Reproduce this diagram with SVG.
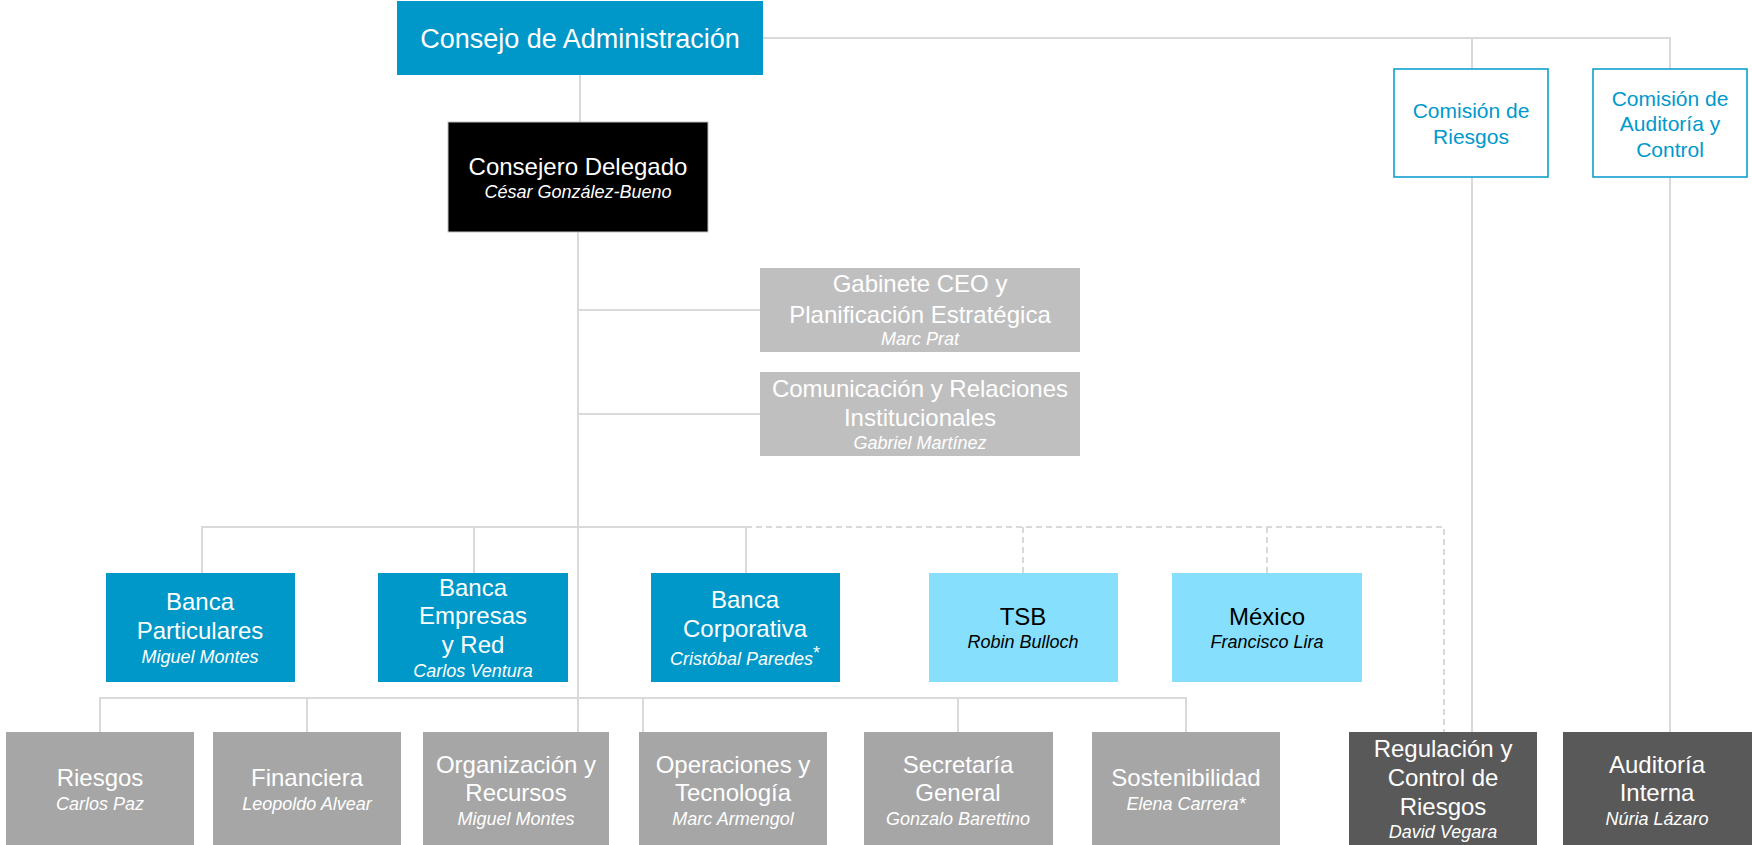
<svg xmlns="http://www.w3.org/2000/svg" width="1752" height="845" viewBox="0 0 1752 845">
<style>
text{font-family:"Liberation Sans",Arial,sans-serif;text-anchor:middle}
.t{font-size:24px}
.n{font-size:18px;font-style:italic}
.w{fill:#ffffff}
.k{fill:#000000}
.b{fill:#0099CC}
.blue{fill:#0098C8}
.cyan{fill:#86E0FD}
.lg{fill:#BFBFBF}
.mg{fill:#A6A6A6}
.dg{fill:#595959}
.ln{stroke:#D9D9D9;stroke-width:2;fill:none}
.ds{stroke:#D9D9D9;stroke-width:2;fill:none;stroke-dasharray:6 4}
</style>
<rect width="1752" height="845" fill="#ffffff"/>
<g id="connectors">
<path class="ln" d="M763 38H1670V69M1472 38V69"/>
<path class="ln" d="M580 75V122"/>
<path class="ln" d="M578 232V732"/>
<path class="ln" d="M578 310H760M578 414H760"/>
<path class="ln" d="M202 573V527H746V573M474 527V573"/>
<path class="ds" d="M746 527H1444V732M1023 527V573M1267 527V573"/>
<path class="ln" d="M100 732V698H1186V732M307 698V732M643 698V732M958 698V732"/>
<path class="ln" d="M1472 177V732M1670 177V732"/>
</g>
<g id="consejo">
<rect class="blue" x="397" y="1" width="366" height="74"/>
<text class="w" x="580" y="48" style="font-size:27px">Consejo de Administración</text>
</g>
<g id="ceo">
<rect x="448" y="122" width="260" height="110" fill="#000" stroke="#BFBFBF" stroke-width="1"/>
<text class="w t" x="578" y="175">Consejero Delegado</text>
<text class="w n" x="578" y="198">César González-Bueno</text>
</g>
<g id="comision-riesgos">
<rect x="1394" y="69" width="154" height="108" fill="#fff" stroke="#0099CC" stroke-width="1.5"/>
<text class="b" x="1471" y="118" style="font-size:21px">Comisión de</text>
<text class="b" x="1471" y="144" style="font-size:21px">Riesgos</text>
</g>
<g id="comision-auditoria">
<rect x="1593" y="69" width="154" height="108" fill="#fff" stroke="#0099CC" stroke-width="1.5"/>
<text class="b" x="1670" y="106" style="font-size:21px">Comisión de</text>
<text class="b" x="1670" y="131" style="font-size:21px">Auditoría y</text>
<text class="b" x="1670" y="157" style="font-size:21px">Control</text>
</g>
<g id="gabinete">
<rect class="lg" x="760" y="268" width="320" height="84"/>
<text class="w t" x="920" y="292">Gabinete CEO y</text>
<text class="w t" x="920" y="323">Planificación Estratégica</text>
<text class="w n" x="920" y="345">Marc Prat</text>
</g>
<g id="comunicacion">
<rect class="lg" x="760" y="372" width="320" height="84"/>
<text class="w t" x="920" y="397">Comunicación y Relaciones</text>
<text class="w t" x="920" y="426">Institucionales</text>
<text class="w n" x="920" y="449">Gabriel Martínez</text>
</g>
<g id="banca-particulares">
<rect class="blue" x="106" y="573" width="189" height="109"/>
<text class="w t" x="200" y="610">Banca</text>
<text class="w t" x="200" y="639">Particulares</text>
<text class="w n" x="200" y="663">Miguel Montes</text>
</g>
<g id="banca-empresas">
<rect class="blue" x="378" y="573" width="190" height="109"/>
<text class="w t" x="473" y="596">Banca</text>
<text class="w t" x="473" y="624">Empresas</text>
<text class="w t" x="473" y="653">y Red</text>
<text class="w n" x="473" y="677">Carlos Ventura</text>
</g>
<g id="banca-corporativa">
<rect class="blue" x="651" y="573" width="189" height="109"/>
<text class="w t" x="745" y="608">Banca</text>
<text class="w t" x="745" y="637">Corporativa</text>
<text class="w n" x="745" y="665">Cristóbal Paredes<tspan style="font-style:normal" dy="-6">*</tspan></text>
</g>
<g id="tsb">
<rect class="cyan" x="929" y="573" width="189" height="109"/>
<text class="k t" x="1023" y="625">TSB</text>
<text class="k n" x="1023" y="648">Robin Bulloch</text>
</g>
<g id="mexico">
<rect class="cyan" x="1172" y="573" width="190" height="109"/>
<text class="k t" x="1267" y="625">México</text>
<text class="k n" x="1267" y="648">Francisco Lira</text>
</g>
<g id="riesgos">
<rect class="mg" x="6" y="732" width="188" height="113"/>
<text class="w t" x="100" y="786">Riesgos</text>
<text class="w n" x="100" y="810">Carlos Paz</text>
</g>
<g id="financiera">
<rect class="mg" x="213" y="732" width="188" height="113"/>
<text class="w t" x="307" y="786">Financiera</text>
<text class="w n" x="307" y="810">Leopoldo Alvear</text>
</g>
<g id="organizacion">
<rect class="mg" x="423" y="732" width="186" height="113"/>
<text class="w t" x="516" y="773">Organización y</text>
<text class="w t" x="516" y="801">Recursos</text>
<text class="w n" x="516" y="825">Miguel Montes</text>
</g>
<g id="operaciones">
<rect class="mg" x="639" y="732" width="188" height="113"/>
<text class="w t" x="733" y="773">Operaciones y</text>
<text class="w t" x="733" y="801">Tecnología</text>
<text class="w n" x="733" y="825">Marc Armengol</text>
</g>
<g id="secretaria">
<rect class="mg" x="864" y="732" width="189" height="113"/>
<text class="w t" x="958" y="773">Secretaría</text>
<text class="w t" x="958" y="801">General</text>
<text class="w n" x="958" y="825">Gonzalo Barettino</text>
</g>
<g id="sostenibilidad">
<rect class="mg" x="1092" y="732" width="188" height="113"/>
<text class="w t" x="1186" y="786">Sostenibilidad</text>
<text class="w n" x="1186" y="810">Elena Carrera*</text>
</g>
<g id="regulacion">
<rect class="dg" x="1349" y="732" width="188" height="113"/>
<text class="w t" x="1443" y="757">Regulación y</text>
<text class="w t" x="1443" y="786">Control de</text>
<text class="w t" x="1443" y="815">Riesgos</text>
<text class="w n" x="1443" y="838">David Vegara</text>
</g>
<g id="auditoria">
<rect class="dg" x="1563" y="732" width="189" height="113"/>
<text class="w t" x="1657" y="773">Auditoría</text>
<text class="w t" x="1657" y="801">Interna</text>
<text class="w n" x="1657" y="825">Núria Lázaro</text>
</g>
</svg>
